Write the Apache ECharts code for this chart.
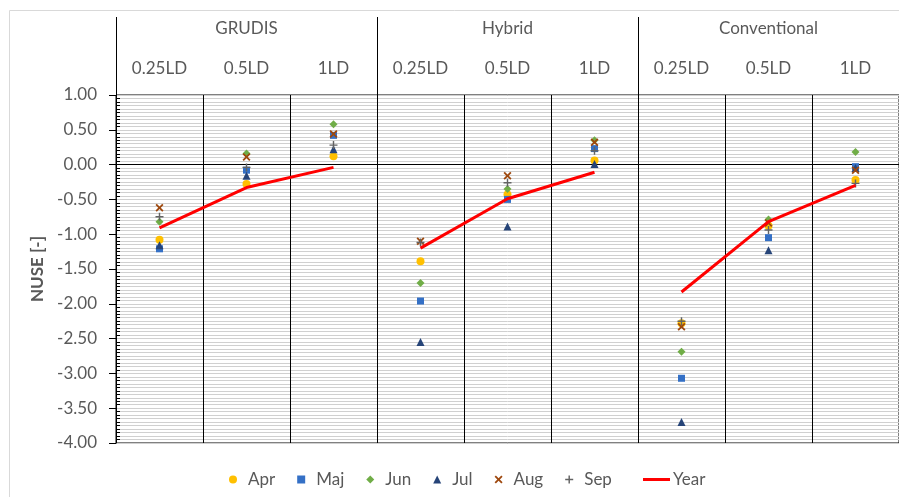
<!DOCTYPE html>
<html>
<head>
<meta charset="utf-8">
<script src="https://cdn.jsdelivr.net/npm/echarts@6/dist/echarts.min.js"></script>
<style>
  html, body { margin: 0; padding: 0; background: #fff; }
  #chart { width: 899px; height: 497px; }
</style>
</head>
<body>
<div id="chart"></div>
<script>
// categories
var groups = ['GRUDIS', 'Hybrid', 'Conventional'];
var doses = ['0.25LD', '0.5LD', '1LD', '0.25LD', '0.5LD', '1LD', '0.25LD', '0.5LD', '1LD'];

// NUSE per month
var apr = [-1.08, -0.28, 0.12, -1.39, -0.43, 0.06, -2.28, -0.88, -0.22];
var maj = [-1.21, -0.08, 0.42, -1.96, -0.50, 0.23, -3.07, -1.05, -0.03];
var jun = [-0.82, 0.16, 0.58, -1.70, -0.35, 0.35, -2.69, -0.79, 0.18];
var jul = [-1.16, -0.16, 0.22, -2.55, -0.89, 0.01, -3.70, -1.23, -0.05];
var aug = [-0.62, 0.11, 0.44, -1.10, -0.16, 0.32, -2.33, -0.84, -0.08];
var sep = [-0.75, -0.04, 0.28, -1.12, -0.26, 0.20, -2.25, -0.94, -0.27];
var year = [-0.91, -0.33, -0.04, -1.20, -0.49, -0.11, -1.83, -0.82, -0.30];

var FONT = 'Lato';
var TXT = '#595959';
var GRIDC = '#d0d0d0';

// x and + markers as filled polygons
var crossX = 'path://M0,1.6L1.6,0L5,3.4L8.4,0L10,1.6L6.6,5L10,8.4L8.4,10L5,6.6L1.6,10L0,8.4L3.4,5Z';
var plus = 'path://M4.1,0H5.9V4.1H10V5.9H5.9V10H4.1V5.9H0V4.1H4.1Z';

function pts(arr) {
  return arr.map(function (v, i) { return [i, v]; });
}

function monthSeries(name, values, symbol, size, color) {
  return {
    name: name,
    type: 'scatter',
    xAxisIndex: 0,
    data: pts(values),
    symbol: symbol,
    symbolSize: size,
    itemStyle: { color: color, opacity: 1 },
    emphasis: { disabled: true },
    z: 3
  };
}

var series = [
  monthSeries('Apr', apr, 'circle', 8, '#FFC000'),
  monthSeries('Maj', maj, 'rect', 7, '#3470C6'),
  monthSeries('Jun', jun, 'diamond', 8, '#70AD47'),
  monthSeries('Jul', jul, 'triangle', 8, '#264478'),
  monthSeries('Aug', aug, crossX, 8, '#9E480E'),
  monthSeries('Sep', sep, plus, 8, '#636363')
];

// zero line
series[0].markLine = {
  silent: true,
  symbol: ['none', 'none'],
  label: { show: false },
  lineStyle: { color: '#000', type: 'solid', width: 1 },
  data: [{ yAxis: 0 }],
  z: 2
};

// yearly line, broken between the three groups
for (var g = 0; g < groups.length; g++) {
  var seg = [];
  for (var i = g * 3; i < g * 3 + 3; i++) seg.push([i, year[i]]);
  series.push({
    name: 'Year',
    type: 'line',
    xAxisIndex: 0,
    data: seg,
    symbol: 'none',
    lineStyle: { color: '#FF0000', width: 3 },
    itemStyle: { color: '#FF0000' },
    emphasis: { disabled: true },
    z: 4
  });
}

var chart = echarts.init(document.getElementById('chart'));
chart.setOption({
  animation: false,
  textStyle: { fontFamily: FONT },
  grid: {
    left: 116, top: 95, width: 786, height: 348,
    show: true, borderColor: '#000', borderWidth: 1, backgroundColor: 'transparent'
  },
  graphic: [{
    type: 'rect',
    silent: true,
    z: -10,
    shape: { x: 9.5, y: 10.5, width: 1000, height: 1000 },
    style: { fill: 'none', stroke: '#d9d9d9', lineWidth: 1 }
  }],
  legend: [{
    data: ['Apr', 'Maj', 'Jun', 'Jul', 'Aug', 'Sep'],
    left: 229, top: 471, padding: 0,
    itemWidth: 8, itemHeight: 8, itemGap: 22,
    selectedMode: false,
    textStyle: { fontSize: 17, color: TXT, fontFamily: FONT, padding: [0, 0, 0, 6] }
  }, {
    data: [{ name: 'Year', icon: 'rect', itemStyle: { color: '#FF0000' } }],
    left: 643, top: 471, padding: 0,
    itemWidth: 27, itemHeight: 3,
    selectedMode: false,
    textStyle: { fontSize: 17, color: TXT, fontFamily: FONT, padding: [0, 0, 0, -2] }
  }],
  xAxis: [{
    type: 'category',
    position: 'top',
    data: doses,
    boundaryGap: true,
    axisLine: { show: true, lineStyle: { color: '#000' } },
    axisTick: { show: true, interval: 0, length: 38, lineStyle: { color: '#000' } },
    axisLabel: { interval: 0, margin: 18, fontSize: 17, color: TXT, fontFamily: FONT },
    splitLine: { show: true, interval: 0, lineStyle: { color: '#000', width: 1 } }
  }, {
    type: 'category',
    position: 'top',
    data: groups,
    boundaryGap: true,
    axisLine: { show: false },
    axisTick: { show: true, interval: 0, length: 78, lineStyle: { color: '#000' } },
    axisLabel: { interval: 0, margin: 58, fontSize: 17, color: TXT, fontFamily: FONT },
    splitLine: { show: false }
  }],
  yAxis: {
    type: 'value',
    min: -4, max: 1, interval: 0.5,
    name: 'NUSE [-]',
    nameLocation: 'middle',
    nameGap: 68,
    nameTextStyle: { fontSize: 17, fontWeight: 'bold', color: TXT, fontFamily: FONT },
    axisLine: { show: true, lineStyle: { color: '#000' } },
    axisTick: { show: true, length: 7, lineStyle: { color: '#000' } },
    minorTick: { show: true, splitNumber: 10, length: -4, lineStyle: { color: '#000' } },
    axisLabel: {
      margin: 19, fontSize: 17, color: TXT, fontFamily: FONT,
      formatter: function (v) { return v.toFixed(2); }
    },
    splitLine: { show: true, lineStyle: { color: GRIDC, width: 1 } },
    minorSplitLine: { show: true, lineStyle: { color: GRIDC, width: 1 } }
  },
  series: series
});
</script>
</body>
</html>
